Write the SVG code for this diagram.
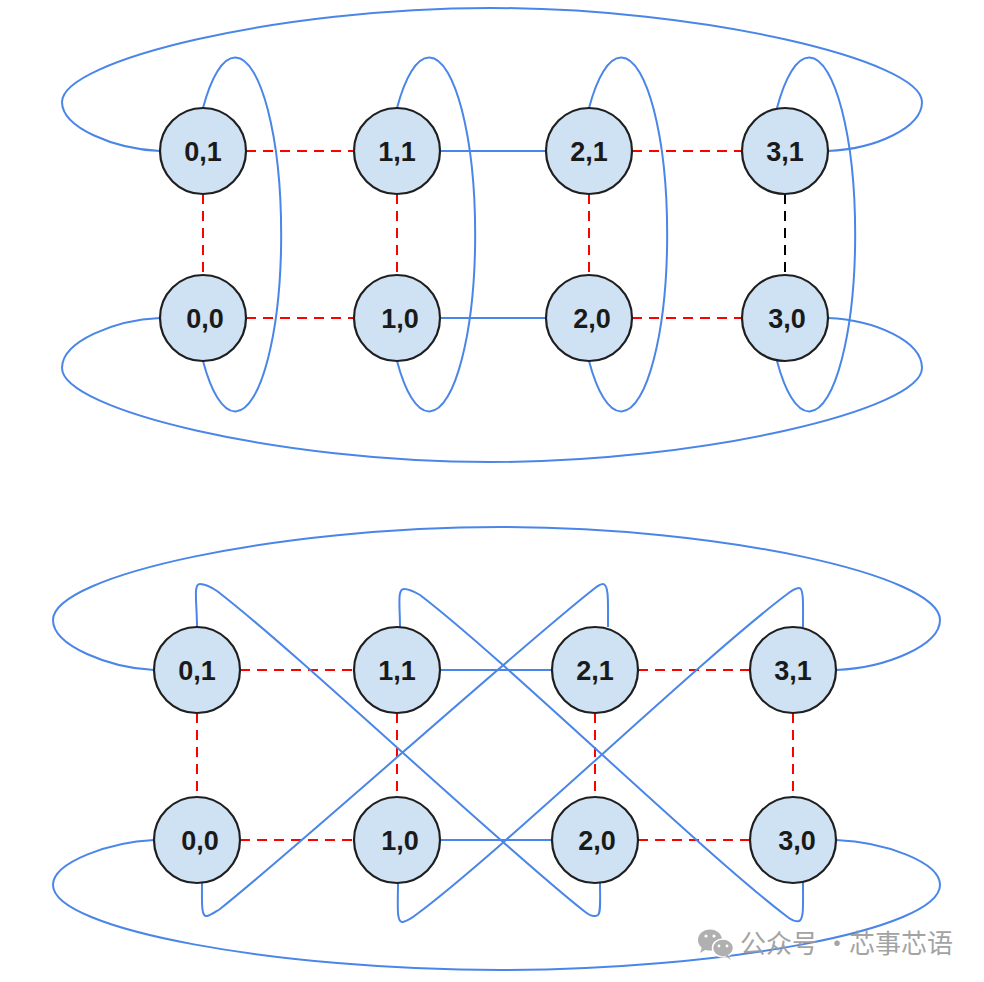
<svg xmlns="http://www.w3.org/2000/svg" width="984" height="982" viewBox="0 0 984 982">
<style>
.bg{fill:#ffffff}
.n circle{fill:#cfe2f3;stroke:#1f1f1f;stroke-width:2.2}
.n text{font-family:"Liberation Sans",Arial,sans-serif;font-weight:bold;font-size:27px;fill:#1a1a1a;text-anchor:middle}
.blue{fill:none;stroke:#4a86e8;stroke-width:2}
.red{fill:none;stroke:#ff0000;stroke-width:2;stroke-dasharray:10 7}
.blk{fill:none;stroke:#000000;stroke-width:2;stroke-dasharray:10 7}
.wm{font-family:"Noto Sans CJK SC","Noto Sans",sans-serif;font-size:26px;fill:#9a9a9a}
</style>
<rect class="bg" x="0" y="0" width="984" height="982"/>
<g id="connectors">
  <!-- top diagram: grid edges -->
  <line class="red" x1="246" y1="151" x2="354" y2="151"/>
  <line class="blue" x1="440" y1="151" x2="546" y2="151"/>
  <line class="red" x1="632" y1="151" x2="742" y2="151"/>
  <line class="red" x1="246" y1="318" x2="354" y2="318"/>
  <line class="blue" x1="440" y1="318" x2="546" y2="318"/>
  <line class="red" x1="632" y1="318" x2="742" y2="318"/>
  <line class="red" x1="203" y1="194" x2="203" y2="275"/>
  <line class="red" x1="397" y1="194" x2="397" y2="275"/>
  <line class="red" x1="589" y1="194" x2="589" y2="275"/>
  <line class="blk" x1="785" y1="194" x2="785" y2="275"/>
  <!-- top diagram: column wrap loops -->
  <path class="blue" d="M203,108 A46,177 0 1 1 203,361"/>
  <path class="blue" d="M397,108 A46,177 0 1 1 397,361"/>
  <path class="blue" d="M589,108 A46,177 0 1 1 589,361"/>
  <path class="blue" d="M777,108 A46,177 0 1 1 777,361"/>
  <!-- top diagram: row wrap loops -->
  <path class="blue" d="M160,151 C115,149 62,128 62,102 C62,60 280,8 490,8 C700,8 922,60 922,102 C922,128 875,149 828,151"/>
  <path class="blue" d="M160,318 C115,320 62,341 62,368 C62,410 280,462 490,462 C700,462 922,410 922,368 C922,341 875,320 828,318"/>

  <!-- bottom diagram: grid edges -->
  <line class="red" x1="240" y1="670" x2="354" y2="670"/>
  <line class="blue" x1="440" y1="670" x2="552" y2="670"/>
  <line class="red" x1="638" y1="670" x2="750" y2="670"/>
  <line class="red" x1="240" y1="840" x2="354" y2="840"/>
  <line class="blue" x1="440" y1="840" x2="552" y2="840"/>
  <line class="red" x1="638" y1="840" x2="750" y2="840"/>
  <line class="red" x1="197" y1="713" x2="197" y2="797"/>
  <line class="red" x1="397" y1="713" x2="397" y2="797"/>
  <line class="red" x1="595" y1="713" x2="595" y2="797"/>
  <line class="red" x1="793" y1="713" x2="793" y2="797"/>
  <!-- bottom diagram: twisted column links -->
  <path class="blue" d="M197,627 C197,603 193,584 200,584 C206,584 211,587 217,591 C300,655 500,845 584,911 C590,916 595,917 598,915 C601,912 600,900 600,883"/>
  <path class="blue" d="M202,883 C202,903 201,917 207,916 C211,915 215,912 220,909 C300,845 505,660 590,592 C595,588 599,584 603,584 C609,584 608,603 608,627"/>
  <path class="blue" d="M400,627 C400,606 397,589 404,589 C410,589 415,592 420,595 C505,660 700,850 785,915 C791,920 796,922 799,921 C804,919 803,905 803,883"/>
  <path class="blue" d="M398,883 C398,905 396,923 403,922 C407,921 412,918 417,914 C505,848 700,660 786,595 C791,591 795,588 799,588 C804,588 803,605 803,627"/>
  <!-- bottom diagram: row wrap loops -->
  <path class="blue" d="M154,670 C110,668 53,646 53,620 C53,575 280,527 500,527 C720,527 940,575 940,620 C940,646 885,668 836,670"/>
  <path class="blue" d="M154,840 C110,842 53,862 53,885 C53,930 280,970 500,970 C720,970 940,930 940,885 C940,862 885,842 836,840"/>
</g>

<!-- top diagram nodes -->
<g id="t01" class="n"><circle cx="203" cy="151" r="43"/><text x="203" y="161">0,1</text></g>
<g id="t11" class="n"><circle cx="397" cy="151" r="43"/><text x="397" y="161">1,1</text></g>
<g id="t21" class="n"><circle cx="589" cy="151" r="43"/><text x="589" y="161">2,1</text></g>
<g id="t31" class="n"><circle cx="785" cy="151" r="43"/><text x="785" y="161">3,1</text></g>
<g id="t00" class="n"><circle cx="203" cy="318" r="43"/><text x="205" y="328">0,0</text></g>
<g id="t10" class="n"><circle cx="397" cy="318" r="43"/><text x="400" y="328">1,0</text></g>
<g id="t20" class="n"><circle cx="589" cy="318" r="43"/><text x="592" y="328">2,0</text></g>
<g id="t30" class="n"><circle cx="785" cy="318" r="43"/><text x="787" y="328">3,0</text></g>

<!-- bottom diagram nodes -->
<g id="b01" class="n"><circle cx="197" cy="670" r="43"/><text x="197" y="680">0,1</text></g>
<g id="b11" class="n"><circle cx="397" cy="670" r="43"/><text x="397" y="680">1,1</text></g>
<g id="b21" class="n"><circle cx="595" cy="670" r="43"/><text x="595" y="680">2,1</text></g>
<g id="b31" class="n"><circle cx="793" cy="670" r="43"/><text x="793" y="680">3,1</text></g>
<g id="b00" class="n"><circle cx="197" cy="840" r="43"/><text x="200" y="850">0,0</text></g>
<g id="b10" class="n"><circle cx="397" cy="840" r="43"/><text x="400" y="850">1,0</text></g>
<g id="b20" class="n"><circle cx="595" cy="840" r="43"/><text x="597" y="850">2,0</text></g>
<g id="b30" class="n"><circle cx="793" cy="840" r="43"/><text x="797" y="850">3,0</text></g>

<!-- watermark -->
<g id="watermark" opacity="0.9">
  <ellipse cx="710" cy="940" rx="12" ry="10.5" fill="#a8a8a8"/>
  <path d="M702,947 L700,953 L707,949 Z" fill="#a8a8a8"/>
  <ellipse cx="723" cy="948" rx="10.5" ry="9" fill="#a8a8a8" stroke="#ffffff" stroke-width="1.5"/>
  <path d="M728,955 L731,960 L725,956 Z" fill="#a8a8a8"/>
  <circle cx="706" cy="936" r="1.6" fill="#fff"/>
  <circle cx="714" cy="936" r="1.6" fill="#fff"/>
  <circle cx="719" cy="946" r="1.4" fill="#fff"/>
  <circle cx="727" cy="946" r="1.4" fill="#fff"/>
  <text class="wm" x="740" y="953">公众号</text>
  <text class="wm" x="837" y="953" text-anchor="middle">·</text>
  <text class="wm" x="849" y="953">芯事芯语</text>
</g>
</svg>
